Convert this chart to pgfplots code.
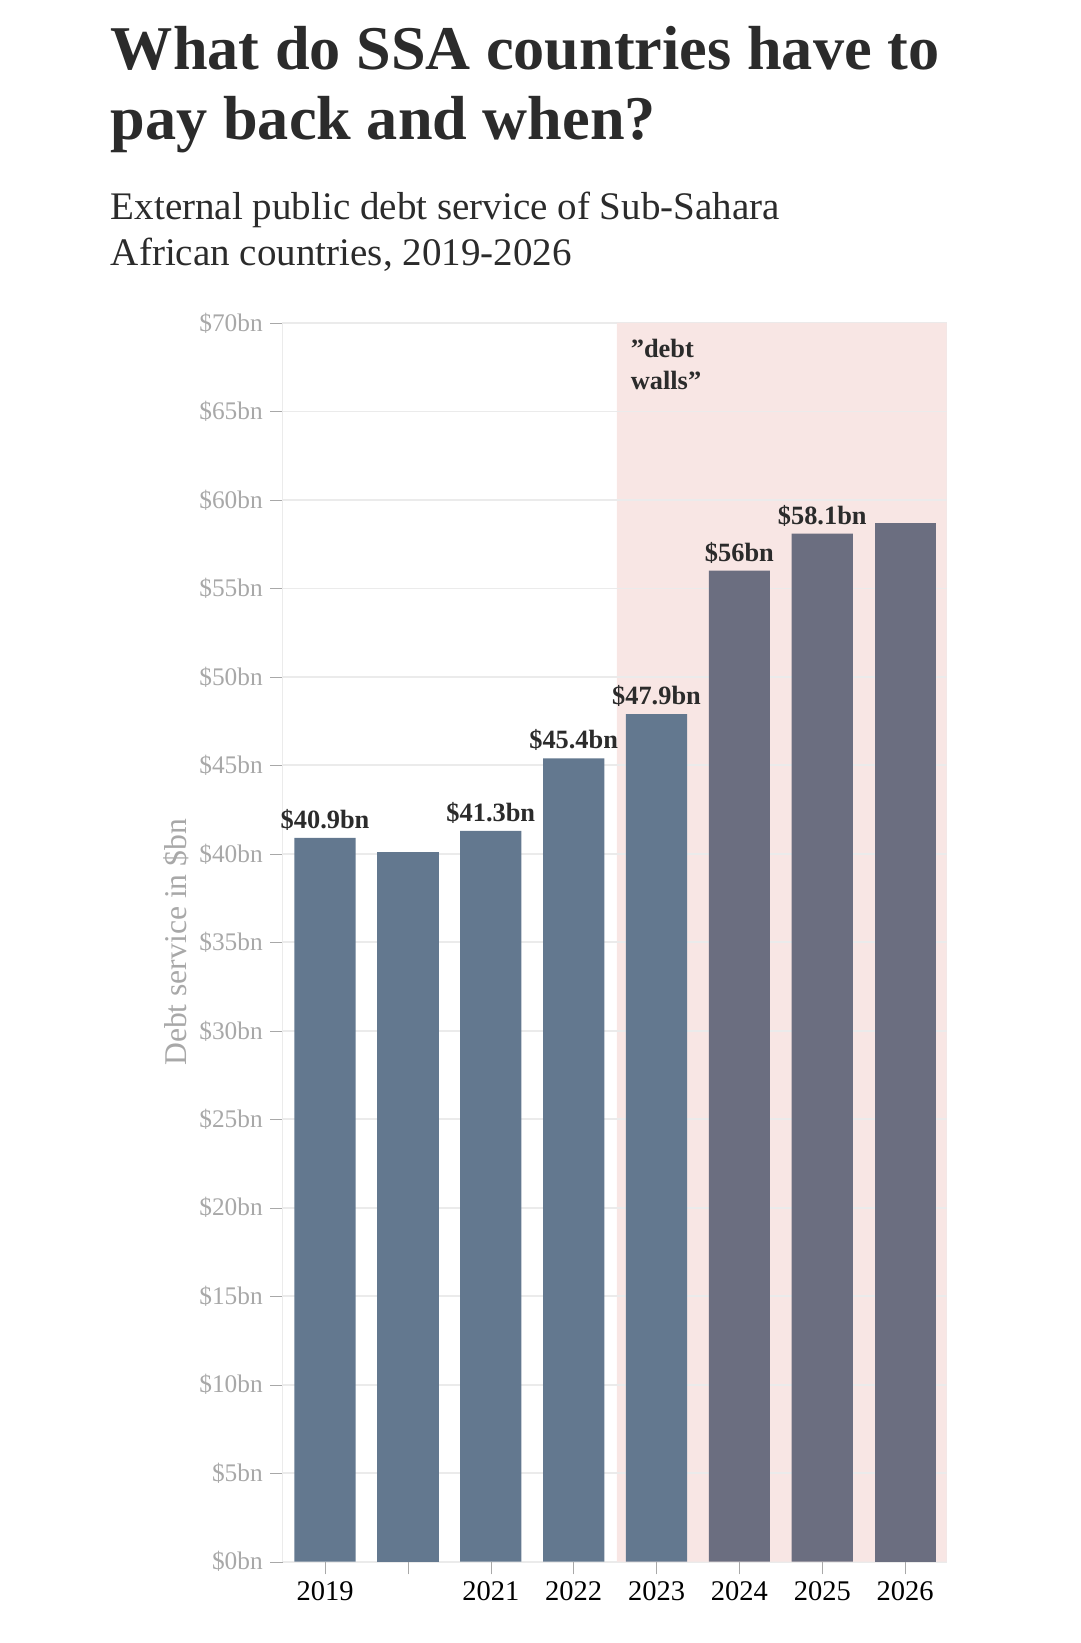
\documentclass[border=0pt]{standalone}
\usepackage{pgfplots}
\pgfplotsset{compat=1.18}
\usepackage{fontspec}
\setmainfont{Liberation Serif}
\definecolor{barA}{HTML}{63788F}
\definecolor{barB}{HTML}{6B6E80}
\definecolor{wallc}{HTML}{F8E6E4}
\definecolor{gridc}{HTML}{EBEBEB}
\definecolor{tickc}{HTML}{A8A8A8}
\definecolor{titc}{HTML}{2B2B2B}
\begin{document}
\begin{tikzpicture}
\useasboundingbox (-134pt,-38.5pt) rectangle (378pt,740pt);
\node[anchor=base west,font=\bfseries\fontsize{29.5}{34}\selectfont,text=titc,align=left] at (-85pt,707pt) {What do SSA countries have to};
\node[anchor=base west,font=\bfseries\fontsize{29.5}{34}\selectfont,text=titc,align=left] at (-85pt,674pt) {pay back and when?};
\node[anchor=base west,font=\fontsize{18.5}{22}\selectfont,text=titc] at (-85pt,636pt) {External public debt service of Sub-Sahara};
\node[anchor=base west,font=\fontsize{18.5}{22}\selectfont,text=titc] at (-85pt,614pt) {African countries, 2019-2026};
\begin{axis}[
  scale only axis, width=314.5pt, height=587pt,
  xmin=-0.51, xmax=7.5, ymin=0, ymax=70,
  axis line style={draw=gridc},
  ytick={0,5,...,70},
  yticklabels={\$0bn,\$5bn,\$10bn,\$15bn,\$20bn,\$25bn,\$30bn,\$35bn,\$40bn,\$45bn,\$50bn,\$55bn,\$60bn,\$65bn,\$70bn},
  yticklabel style={font=\fontsize{12}{14}\selectfont,text=tickc},
  xtick={0,1,2,3,4,5,6,7},
  xticklabels={2019,,2021,2022,2023,2024,2025,2026},
  xticklabel style={font=\fontsize{13.5}{16}\selectfont,text=black},
  tick style={draw=tickc},
  major tick length=6pt,
  tick align=outside,
  xtick pos=bottom, ytick pos=left,
  ymajorgrids, grid style={draw=gridc,line width=0.8pt},
  ylabel={Debt service in \$bn},
  ylabel style={font=\fontsize{15}{18}\selectfont,text=tickc},
  ylabel shift=-2pt,
  bar width=29pt,
  nodes near coords style={font=\bfseries\fontsize{12.5}{15}\selectfont,text=titc,/pgf/number format/assume math mode=true},
]
\addplot[fill=wallc,draw=none,forget plot] coordinates {(3.52,0) (3.52,70) (7.5,70) (7.5,0)} \closedcycle;
\foreach \y in {5,10,...,65} {\edef\t{\noexpand\draw[gridc,line width=0.8pt] (axis cs:3.52,\y) -- (axis cs:7.5,\y);}\t}
\addplot[ybar,bar shift=0pt,fill=barA,draw=none,nodes near coords={\$\pgfmathprintnumber{\pgfplotspointmeta}bn}] coordinates {(0,40.9) (2,41.3) (3,45.4) (4,47.9)};
\addplot[ybar,bar shift=0pt,fill=barA,draw=none] coordinates {(1,40.1)};
\addplot[ybar,bar shift=0pt,fill=barB,draw=none,nodes near coords={\$\pgfmathprintnumber{\pgfplotspointmeta}bn}] coordinates {(5,56) (6,58.1)};
\addplot[ybar,bar shift=0pt,fill=barB,draw=none] coordinates {(7,58.7)};
\node[anchor=north west,align=left,font=\bfseries\fontsize{12.5}{15}\selectfont,text=titc] at (axis cs:3.6,69.5) {\char34 debt\\walls\char34};
\end{axis}
\end{tikzpicture}
\end{document}
